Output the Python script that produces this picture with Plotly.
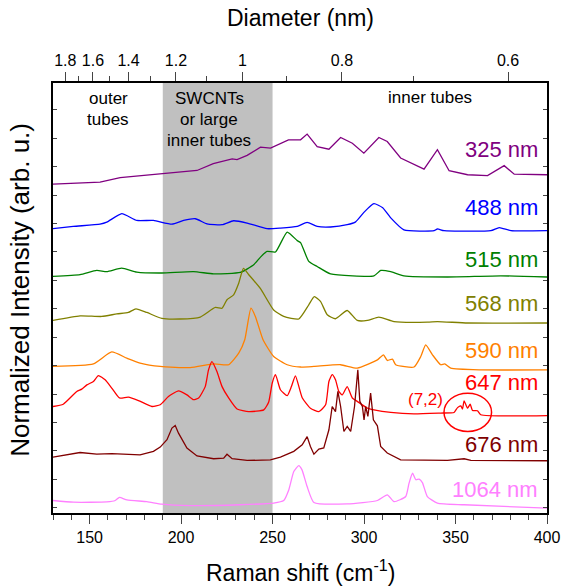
import plotly.graph_objects as go

# ---------------- data ----------------
x_325 = [130, 155.7, 166.7, 186.8, 189.5, 208.7, 217.6, 227.9, 230.6, 236.1, 243.4, 248.9, 258.7, 265.3,
         268.9, 274.4, 280.8, 287.2, 293.6, 299.9, 308.1, 312.7, 320.0, 332.8, 340.1, 346.5, 356.6, 367.5,
         376.6, 382.1, 400]
y_325 = [11.39, 11.46, 11.62, 11.73, 11.74, 11.87, 12.11, 12.28, 12.25, 12.40, 12.69, 12.66, 12.95, 12.95,
         13.15, 12.71, 12.62, 13.03, 12.83, 12.48, 13.03, 12.89, 12.31, 11.92, 12.60, 11.86, 11.72, 11.69,
         12.04, 11.74, 11.72]

x_488 = [130, 141.1, 155.7, 159.4, 167.6, 175.8, 184.9, 195.0, 201.4, 207.8, 214.2, 222.4, 228.7, 236.1,
         247.0, 254.3, 263.5, 268.9, 274.4, 281.7, 290.8, 295.4, 300.3, 305.4, 310.2, 314.6, 321.8, 338.3,
         340.1, 343.7, 369.3, 373.9, 380.3, 400]
y_488 = [9.82, 9.90, 9.98, 10.05, 10.35, 10.11, 10.11, 9.98, 10.11, 10.17, 9.99, 9.96, 10.10, 10.02,
         9.82, 9.84, 9.90, 10.04, 9.90, 9.88, 9.96, 10.06, 10.42, 10.70, 10.56, 10.20, 9.78, 9.75,
         9.81, 9.75, 9.75, 9.86, 9.75, 9.75]

x_515 = [130, 144.8, 153.9, 159.4, 167.6, 175.8, 189.5, 206.8, 217.8, 232.4, 239.7, 243.4, 247.0, 251.6,
         258.0, 263.5, 265.3, 269.8, 274.4, 281.7, 305.4, 309.1, 314.6, 321.8, 345.6, 374.8, 400]
y_515 = [8.14, 8.20, 8.35, 8.31, 8.43, 8.29, 8.26, 8.31, 8.23, 8.28, 8.55, 8.82, 9.02, 9.00,
         9.70, 9.40, 9.33, 8.67, 8.49, 8.23, 8.16, 8.35, 8.31, 8.16, 8.12, 8.16, 8.12]

x_568 = [130, 144.8, 156.7, 164.9, 171.2, 175.3, 181.3, 189.5, 199.5, 210.5, 218.7, 222.4, 225.1, 228.7,
         231.5, 234.1, 237.0, 243.4, 250.6, 256.1, 264.3, 269.8, 272.8, 276.2, 279.9, 284.4, 290.8, 296.3,
         301.8, 308.1, 316.4, 334.7, 340.1, 356.6, 400]
y_568 = [6.59, 6.75, 6.73, 6.82, 6.87, 7.00, 6.87, 6.66, 6.64, 6.71, 7.05, 7.02, 7.32, 7.49,
         7.90, 8.42, 8.20, 7.71, 6.96, 6.73, 6.64, 7.14, 7.43, 7.26, 6.79, 6.65, 6.94, 6.59,
         6.59, 6.71, 6.55, 6.53, 6.55, 6.50, 6.50]

x_590 = [130, 152.1, 162.1, 170.4, 177.6, 188.6, 205.0, 217.8, 226.0, 231.5, 234.8, 238.2, 240.6, 244.8,
         250.6, 258.0, 265.3, 272.6, 287.2, 296.3, 307.3, 310.6, 312.7, 315.5, 317.3, 327.3, 331.0, 333.7,
         337.4, 341.9, 344.1, 347.4, 363.8, 400]
y_590 = [4.97, 5.06, 5.48, 5.26, 5.09, 4.97, 4.93, 5.06, 5.03, 5.44, 5.91, 7.02, 6.73, 5.91,
         5.32, 5.03, 4.95, 4.97, 5.03, 4.91, 5.20, 5.38, 5.18, 5.23, 5.03, 4.95, 5.32, 5.73,
         5.38, 5.03, 5.06, 4.91, 4.85, 4.85]

x_647 = [130, 135.6, 143.0, 145.7, 148.5, 152.1, 154.8, 158.5, 162.1, 166.3, 171.2, 176.7, 184.1, 188.6,
         193.1, 198.6, 203.2, 206.8, 209.6, 213.2, 215.0, 216.9, 219.6, 222.4, 226.0, 230.6, 237.0, 245.2,
         247.9, 249.8, 251.6, 254.3, 258.0, 260.3, 262.5, 266.2, 270.7, 275.3, 279.0, 280.8, 282.6, 284.4,
         286.2, 288.1, 290.8, 293.6, 296.3, 301.8, 305.4, 314.6, 327.3, 341.9, 349.2, 351.1, 352.9, 353.8,
         354.7, 356.6, 358.0, 359.3, 362.0, 363.8, 400]
y_647 = [3.56, 3.64, 4.09, 4.17, 4.32, 4.44, 4.65, 4.50, 4.21, 3.86, 3.89, 3.77, 3.56, 3.62,
         3.91, 4.11, 3.97, 3.80, 3.86, 4.26, 4.85, 5.14, 4.79, 4.26, 3.86, 3.47, 3.38, 3.44,
         3.72, 4.38, 4.68, 4.15, 3.94, 4.26, 4.64, 3.87, 3.50, 3.38, 3.62, 4.44, 4.68, 4.50,
         4.09, 3.97, 4.26, 3.86, 3.74, 3.50, 3.44, 3.35, 3.30, 3.33, 3.35, 3.52, 3.58, 3.47,
         3.76, 3.50, 3.64, 3.42, 3.41, 3.27, 3.24]

x_676 = [130, 137.5, 144.8, 153.9, 162.1, 177.6, 184.9, 188.6, 192.3, 195.0, 196.8, 198.6, 203.2, 208.7,
         217.8, 223.3, 225.1, 227.9, 236.1, 248.8, 254.3, 261.6, 266.2, 268.9, 270.7, 272.6, 275.3, 278.0,
         280.8, 282.6, 284.4, 285.7, 287.2, 289.0, 290.8, 292.7, 294.8, 296.6, 297.7, 299.1, 300.0, 300.9,
         302.1, 303.6, 305.1, 307.3, 309.1, 312.7, 316.4, 320.0, 345.6, 354.7, 358.4, 400]
y_676 = [1.78, 1.86, 1.94, 1.88, 1.90, 1.86, 1.98, 2.13, 2.39, 2.80, 2.89, 2.62, 2.10, 1.82,
         1.72, 1.74, 1.88, 1.72, 1.66, 1.68, 1.78, 1.98, 2.21, 2.50, 2.15, 1.88, 2.06, 2.10,
         2.74, 3.56, 3.38, 4.09, 3.56, 2.68, 2.86, 2.68, 3.56, 4.85, 3.74, 3.56, 3.09, 3.56,
         3.21, 4.03, 3.09, 2.88, 2.15, 1.92, 1.80, 1.68, 1.66, 1.72, 1.66, 1.65]

x_1064 = [130, 141.1, 159.4, 164.0, 166.3, 170.4, 181.3, 189.5, 205.0, 232.4, 250.6, 256.1, 258.9, 261.6,
          264.3, 266.1, 268.9, 272.6, 290.8, 307.3, 312.7, 316.4, 322.8, 324.6, 326.5, 328.3, 330.1, 331.9,
          334.6, 340.1, 354.7, 400]
y_1064 = [0.25, 0.19, 0.20, 0.25, 0.36, 0.27, 0.21, 0.12, 0.07, 0.10, 0.16, 0.25, 0.63, 1.27,
          1.48, 1.33, 0.74, 0.18, 0.13, 0.25, 0.45, 0.21, 0.39, 0.86, 1.21, 0.98, 1.00, 0.88,
          0.39, 0.16, 0.10, -0.02]

# name, x, y, colour, label y, smooth?
series = [
    ("325 nm", x_325, y_325, "#800080", 12.60, False),
    ("488 nm", x_488, y_488, "#0000FF", 10.55, True),
    ("515 nm", x_515, y_515, "#008000", 8.75, True),
    ("568 nm", x_568, y_568, "#808000", 7.18, True),
    ("590 nm", x_590, y_590, "#FF8000", 5.52, True),
    ("647 nm", x_647, y_647, "#FF0000", 4.40, True),
    ("676 nm", x_676, y_676, "#800000", 2.21, False),
    ("1064 nm", x_1064, y_1064, "#FF80FF", 0.65, True),
]

diam_ticks = [1.8, 1.6, 1.4, 1.2, 1.0, 0.8, 0.6]
diam_labels = ["1.8", "1.6", "1.4", "1.2", "1", "0.8", "0.6"]
diam_minor = [1.7, 1.5, 1.3, 1.1, 0.9, 0.7]

band = (190, 250)
X_RANGE = [130, 400]
Y_RANGE = [-0.19, 14.95]

def shift_from_d(d):
    return 217.8 / d + 15.7

FONT = "Liberation Sans, Arial, sans-serif"

fig = go.Figure()
for name, xs, ys, col, ylab, smooth in series:
    line = dict(color=col, width=1.3)
    if smooth:
        line.update(shape="spline", smoothing=0.5)
    fig.add_trace(go.Scatter(x=xs, y=ys, mode="lines", name=name, line=line, showlegend=False))
    fig.add_annotation(x=396.2, y=ylab, text=name, showarrow=False, xanchor="right",
                       yanchor="middle", font=dict(size=22, color=col, family=FONT))

# invisible trace so that the top (diameter) axis is drawn
fig.add_trace(go.Scatter(x=X_RANGE, y=[None, None], xaxis="x2", yaxis="y", mode="lines",
                         showlegend=False, hoverinfo="skip"))

fig.add_shape(type="rect", x0=band[0], x1=band[1], y0=0, y1=1, xref="x", yref="paper",
              fillcolor="#C0C0C0", line=dict(width=0), layer="below")

# (7,2) ellipse
fig.add_shape(type="circle", x0=343.7, x1=369.7, y0=2.68, y1=4.03, xref="x", yref="y",
              line=dict(color="#FF0000", width=1.5))
fig.add_annotation(x=333.4, y=3.80, text="(7,2)", showarrow=False,
                   font=dict(size=17, color="#FF0000", family=FONT))

region_text = [
    (160.1, 14.42, "outer"), (160.1, 13.65, "tubes"),
    (215.4, 14.42, "SWCNTs"), (215.4, 13.65, "or large"), (215.4, 12.93, "inner tubes"),
    (336.0, 14.45, "inner tubes"),
]
for xx, yy, tt in region_text:
    fig.add_annotation(x=xx, y=yy, text=tt, showarrow=False,
                       font=dict(size=17, color="black", family=FONT))

# axis titles
fig.add_annotation(x=0.50, y=-0.134, xref="paper", yref="paper", text="Raman shift (cm<sup>-1</sup>)",
                   showarrow=False, xanchor="center", yanchor="middle",
                   font=dict(size=23, color="black", family=FONT))
fig.add_annotation(x=0.50, y=1.152, xref="paper", yref="paper", text="Diameter (nm)",
                   showarrow=False, xanchor="center", yanchor="middle",
                   font=dict(size=23, color="black", family=FONT))
fig.add_annotation(x=-0.066, y=0.52, xref="paper", yref="paper", text="Normalized Intensity (arb. u.)",
                   showarrow=False, textangle=-90, xanchor="center", yanchor="middle",
                   font=dict(size=26, color="black", family=FONT))

fig.update_layout(
    width=563, height=586,
    margin=dict(l=53, r=16, t=83, b=73, pad=0),
    plot_bgcolor="white", paper_bgcolor="white",
    font=dict(family=FONT, size=16, color="black"),
    xaxis=dict(range=X_RANGE, tickmode="linear", tick0=150, dtick=50, ticks="outside",
               ticklen=9, tickwidth=1.3, showline=True, linecolor="black", linewidth=1.5,
               showgrid=False, zeroline=False, mirror=False, automargin=False,
               minor=dict(dtick=10, tick0=130, ticks="outside", ticklen=5, tickwidth=1.3),
               tickfont=dict(size=16)),
    xaxis2=dict(range=X_RANGE, overlaying="x", side="top", anchor="y",
                tickmode="array", tickvals=[shift_from_d(d) for d in diam_ticks], ticktext=diam_labels,
                ticks="outside", ticklen=9, tickwidth=1.3, showline=True, linecolor="black",
                linewidth=1.5, showgrid=False, zeroline=False, automargin=False,
                minor=dict(tickmode="array", tickvals=[shift_from_d(d) for d in diam_minor],
                           ticks="outside", ticklen=5, tickwidth=1.3),
                tickfont=dict(size=16)),
    yaxis=dict(range=Y_RANGE, tickmode="linear", tick0=0, dtick=1, ticks="inside", ticklen=4,
               tickwidth=1.3, showticklabels=False, showline=True, linecolor="black", linewidth=1.5,
               mirror="ticks", showgrid=False, zeroline=False, automargin=False),
)

fig.write_html("out.html")
